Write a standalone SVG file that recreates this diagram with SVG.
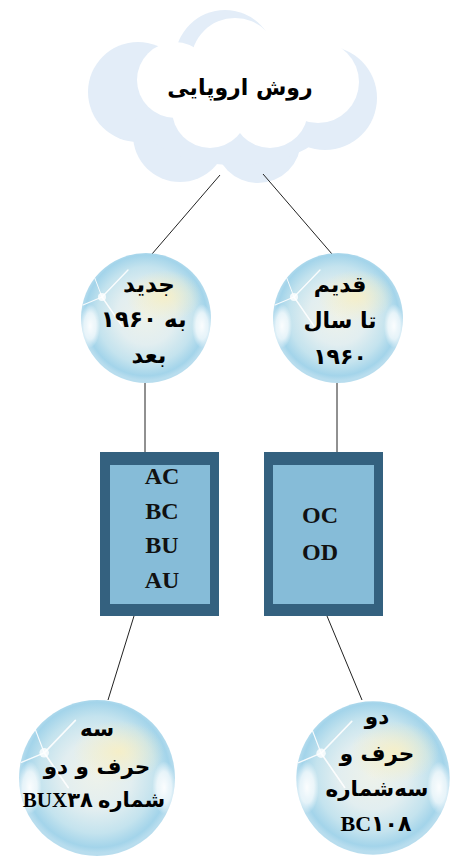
<svg xmlns="http://www.w3.org/2000/svg" xmlns:xlink="http://www.w3.org/1999/xlink" width="452" height="856" viewBox="0 0 452 856">
<style>
.fa{font-family:"DejaVu Sans","Noto Sans",sans-serif;font-weight:bold;fill:#000;text-anchor:middle}
.mix{font-family:"Liberation Serif","DejaVu Sans",serif;font-weight:bold;fill:#000;text-anchor:middle}
.lat{font-family:"Liberation Serif",serif;font-weight:bold;font-size:24px;fill:#111;text-anchor:middle}
.conn{stroke:#222;stroke-width:1;fill:none}
.outer{fill:#34617f}
.inner{fill:#86bcd8}
</style>
<defs>
<radialGradient id="bubG" cx="50%" cy="48%" r="50%">
<stop offset="0" stop-color="#eef2ea"/>
<stop offset="0.45" stop-color="#e2eef0"/>
<stop offset="0.75" stop-color="#c4e3ee"/>
<stop offset="0.93" stop-color="#a3d4ea"/>
<stop offset="1" stop-color="#b8ddee"/>
</radialGradient>
<radialGradient id="yel" cx="50%" cy="50%" r="50%">
<stop offset="0" stop-color="#f7efc4" stop-opacity="0.9"/>
<stop offset="1" stop-color="#f7efc4" stop-opacity="0"/>
</radialGradient>
<radialGradient id="side" cx="50%" cy="50%" r="50%">
<stop offset="0" stop-color="#ffffff" stop-opacity="0.95"/>
<stop offset="0.6" stop-color="#ffffff" stop-opacity="0.7"/>
<stop offset="1" stop-color="#ffffff" stop-opacity="0"/>
</radialGradient>
<g id="bubble">
<circle r="65" fill="url(#bubG)"/>
<ellipse cx="18" cy="-22" rx="38" ry="26" fill="url(#yel)"/>
<ellipse cx="-56" cy="8" rx="10" ry="22" fill="url(#side)"/>
<ellipse cx="56" cy="8" rx="10" ry="22" fill="url(#side)"/>
<g stroke="#ffffff" stroke-linecap="round" opacity="0.9">
<line x1="-44" y1="-21" x2="-18" y2="-48" stroke-width="1.4"/>
<line x1="-44" y1="-21" x2="-24" y2="8" stroke-width="1.4"/>
<line x1="-44" y1="-21" x2="-63" y2="-13" stroke-width="1.2"/>
<line x1="-44" y1="-21" x2="-52" y2="-42" stroke-width="1"/>
</g>
<circle cx="-44" cy="-21" r="4" fill="#ffffff" opacity="0.8"/>
</g>
</defs>

<g id="cloud">
<g fill="#e3edf8">
<circle cx="138" cy="92" r="50"/>
<circle cx="225" cy="60" r="50"/>
<circle cx="325" cy="98" r="52"/>
<circle cx="180" cy="135" r="47"/>
<circle cx="258" cy="140" r="43"/>
<ellipse cx="235" cy="110" rx="100" ry="55"/>
</g>
<g fill="#ffffff">
<circle cx="175" cy="80" r="38"/>
<circle cx="235" cy="62" r="44"/>
<circle cx="318" cy="82" r="41"/>
<circle cx="210" cy="110" r="38"/>
<circle cx="270" cy="110" r="38"/>
<ellipse cx="245" cy="92" rx="75" ry="40"/>
</g>
<text class="fa" x="240" y="95" font-size="22">روش اروپایی</text>
</g>

<g id="connectors">
<line class="conn" x1="220" y1="175" x2="152" y2="254"/>
<line class="conn" x1="263" y1="174" x2="332" y2="254"/>
<line class="conn" x1="145" y1="383" x2="145" y2="452"/>
<line class="conn" x1="337" y1="383" x2="337" y2="452"/>
<line class="conn" x1="134" y1="616" x2="108" y2="700"/>
<line class="conn" x1="327" y1="616" x2="362" y2="700"/>
</g>

<g id="node-new">
<use xlink:href="#bubble" transform="translate(146,318)"/>
<text class="fa" x="149" y="292" font-size="23">جدید</text>
<text class="fa" x="157" y="327" font-size="23" style="text-anchor:end">۱۹۶۰</text>
<text class="fa" x="164" y="327" font-size="23" style="text-anchor:start">به</text>
<text class="fa" x="149" y="363" font-size="23">بعد</text>
</g>

<g id="node-old">
<use xlink:href="#bubble" transform="translate(338,318)"/>
<text class="fa" x="340" y="292" font-size="22">قدیم</text>
<text class="fa" x="340" y="328" font-size="22">تا سال</text>
<text class="fa" x="340" y="364" font-size="22">۱۹۶۰</text>
</g>

<g id="box-left">
<rect class="outer" x="100" y="452" width="119" height="164"/>
<rect class="inner" x="110" y="465" width="100" height="139"/>
<text class="lat" x="162" y="484">AC</text>
<text class="lat" x="162" y="519">BC</text>
<text class="lat" x="162" y="553">BU</text>
<text class="lat" x="162" y="588">AU</text>
</g>

<g id="box-right">
<rect class="outer" x="264" y="452" width="119" height="164"/>
<rect class="inner" x="273" y="465" width="101" height="139"/>
<text class="lat" x="320" y="523">OC</text>
<text class="lat" x="320" y="560">OD</text>
</g>

<g id="node-three">
<use xlink:href="#bubble" transform="translate(97,778) scale(1.2)"/>
<text class="fa" x="97" y="736" font-size="21.5">سه</text>
<text class="fa" x="97" y="774" font-size="21.5">حرف و دو</text>
<text class="mix" x="94" y="807" font-size="21">BUX۳۸ شماره</text>
</g>

<g id="node-two">
<use xlink:href="#bubble" transform="translate(373,778) scale(1.18)"/>
<text class="fa" x="377" y="724" font-size="21.5">دو</text>
<text class="fa" x="377" y="761" font-size="21.5">حرف و</text>
<text class="fa" x="377" y="796" font-size="21.5">سه‌شماره</text>
<text class="mix" x="376" y="831" font-size="22">BC۱۰۸</text>
</g>
</svg>
